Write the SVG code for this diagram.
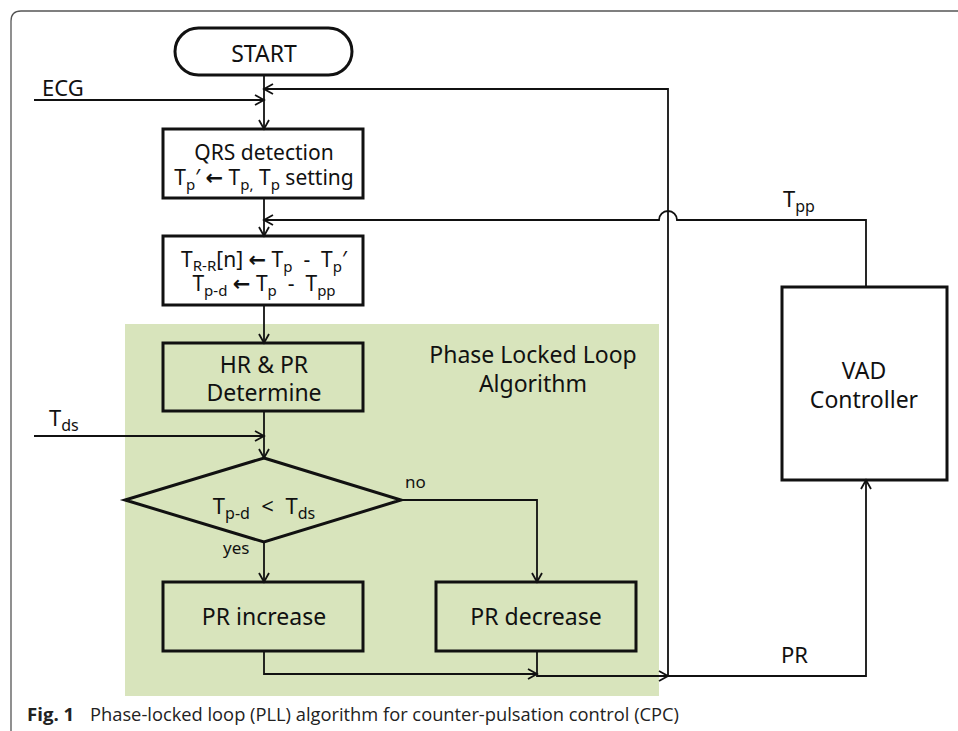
<svg xmlns="http://www.w3.org/2000/svg" width="958" height="731" viewBox="0 0 958 731">
<defs>
<style>
.t{font-family:"Noto Sans","Open Sans",sans-serif;fill:#111;}
.ar{font-family:"DejaVu Sans",sans-serif;font-weight:bold;}
.box{fill:none;stroke:#111;stroke-width:3;}
.ln{fill:none;stroke:#111;stroke-width:1.8;}
.cap{font-family:"Open Sans","Noto Sans",sans-serif;fill:#222;font-size:18.6px;}
</style>
<marker id="ah" viewBox="0 0 12 12" refX="10" refY="6" markerWidth="12" markerHeight="12" markerUnits="userSpaceOnUse" orient="auto">
<path d="M1,1 L10,6 L1,11" fill="none" stroke="#111" stroke-width="1.8"/>
</marker>
</defs>
<rect width="958" height="731" fill="#fff"/>
<path d="M11,731 V21 Q11,11 21,11 H958" fill="none" stroke="#555" stroke-width="1.3"/>
<rect id="pll-area" x="125" y="324" width="534" height="372" fill="#d8e4bc"/>
<text class="t" x="533" y="363" text-anchor="middle" font-size="23">Phase Locked Loop</text>
<text class="t" x="533" y="392" text-anchor="middle" font-size="23">Algorithm</text>

<g id="connectors">
<line class="ln" x1="264" y1="75" x2="264" y2="129" marker-end="url(#ah)"/>
<line class="ln" x1="34" y1="100" x2="264" y2="100" marker-end="url(#ah)"/>
<polyline class="ln" points="668,676 668,89 264,89" marker-end="url(#ah)"/>
<line class="ln" x1="264" y1="198" x2="264" y2="236" marker-end="url(#ah)"/>
<path class="ln" d="M866,287 V220 H677 A9,9 0 0 0 659,220 H264" marker-end="url(#ah)"/>
<line class="ln" x1="264" y1="305" x2="264" y2="343" marker-end="url(#ah)"/>
<line class="ln" x1="264" y1="411" x2="264" y2="458" marker-end="url(#ah)"/>
<line class="ln" x1="34" y1="436" x2="264" y2="436" marker-end="url(#ah)"/>
<polyline class="ln" points="401,500 537,500 537,582" marker-end="url(#ah)"/>
<line class="ln" x1="264" y1="542" x2="264" y2="582" marker-end="url(#ah)"/>
<polyline class="ln" points="264,651 264,674 537,674" marker-end="url(#ah)"/>
<polyline class="ln" points="537,651 537,676 668,676" marker-end="url(#ah)"/>
<polyline class="ln" points="668,676 866,676 866,480" marker-end="url(#ah)"/>
</g>

<g id="start">
<rect class="box" x="175" y="28" width="177" height="47" rx="23.5" fill="#fff"/>
<text class="t" x="264" y="62" text-anchor="middle" font-size="23">START</text>
</g>
<text class="t" x="42" y="96" font-size="22">ECG</text>

<g id="qrs">
<rect class="box" x="163" y="129" width="200" height="69" fill="#fff"/>
<text class="t" x="264" y="160" text-anchor="middle" font-size="21">QRS detection</text>
<text class="t" x="264" y="185" text-anchor="middle" font-size="21">T<tspan dy="5" font-size="15">p</tspan><tspan dy="-5">′ </tspan><tspan class="ar">←</tspan> T<tspan dy="5" font-size="15">p,</tspan><tspan dy="-5"> T</tspan><tspan dy="5" font-size="15">p</tspan><tspan dy="-5"> setting</tspan></text>
</g>

<g id="calc">
<rect class="box" x="163" y="236" width="200" height="69" fill="#fff"/>
<text class="t" x="264" y="267" text-anchor="middle" font-size="21">T<tspan dy="4" font-size="15">R-R</tspan><tspan dy="-4">[n] </tspan><tspan class="ar">←</tspan> T<tspan dy="5" font-size="15">p</tspan><tspan dy="-5">&#160; -&#160; T</tspan><tspan dy="5" font-size="15">p</tspan><tspan dy="-5">′</tspan></text>
<text class="t" x="264" y="291" text-anchor="middle" font-size="21">T<tspan dy="5" font-size="15">p-d</tspan><tspan dy="-5"> </tspan><tspan class="ar">←</tspan> T<tspan dy="5" font-size="15">p</tspan><tspan dy="-5">&#160; -&#160; T</tspan><tspan dy="5" font-size="15">pp</tspan></text>
</g>

<g id="hrpr">
<rect class="box" x="163" y="343" width="200" height="68" fill="none"/>
<text class="t" x="264" y="373" text-anchor="middle" font-size="23">HR &amp; PR</text>
<text class="t" x="264" y="401" text-anchor="middle" font-size="23">Determine</text>
</g>

<text class="t" x="49" y="426" font-size="22">T<tspan dy="5" font-size="16">ds</tspan></text>

<g id="decision">
<polygon class="box" points="264,458 401,500 264,542 125,500"/>
<text class="t" x="264" y="514" text-anchor="middle" font-size="22">T<tspan dy="5" font-size="16">p-d</tspan><tspan dy="-5">&#160;&#160;&lt;&#160;&#160;T</tspan><tspan dy="5" font-size="16">ds</tspan></text>
<text class="t" x="405" y="488" font-size="17">no</text>
<text class="t" x="223" y="554" font-size="17">yes</text>
</g>

<g id="pr-increase">
<rect class="box" x="163" y="582" width="200" height="69"/>
<text class="t" x="264" y="625" text-anchor="middle" font-size="23">PR increase</text>
</g>

<g id="pr-decrease">
<rect class="box" x="436" y="582" width="200" height="69"/>
<text class="t" x="536" y="625" text-anchor="middle" font-size="23">PR decrease</text>
</g>

<g id="vad">
<rect class="box" x="782" y="287" width="165" height="193" fill="#fff"/>
<text class="t" x="864" y="379" text-anchor="middle" font-size="23">VAD</text>
<text class="t" x="864" y="408" text-anchor="middle" font-size="23">Controller</text>
</g>

<text class="t" x="783" y="207" font-size="22">T<tspan dy="5" font-size="16">pp</tspan></text>
<text class="t" x="781" y="663" font-size="22">PR</text>

<text class="cap" x="27" y="721" font-weight="bold">Fig. 1</text>
<text class="cap" x="90" y="721" textLength="589" lengthAdjust="spacingAndGlyphs">Phase-locked loop (PLL) algorithm for counter-pulsation control (CPC)</text>
</svg>
